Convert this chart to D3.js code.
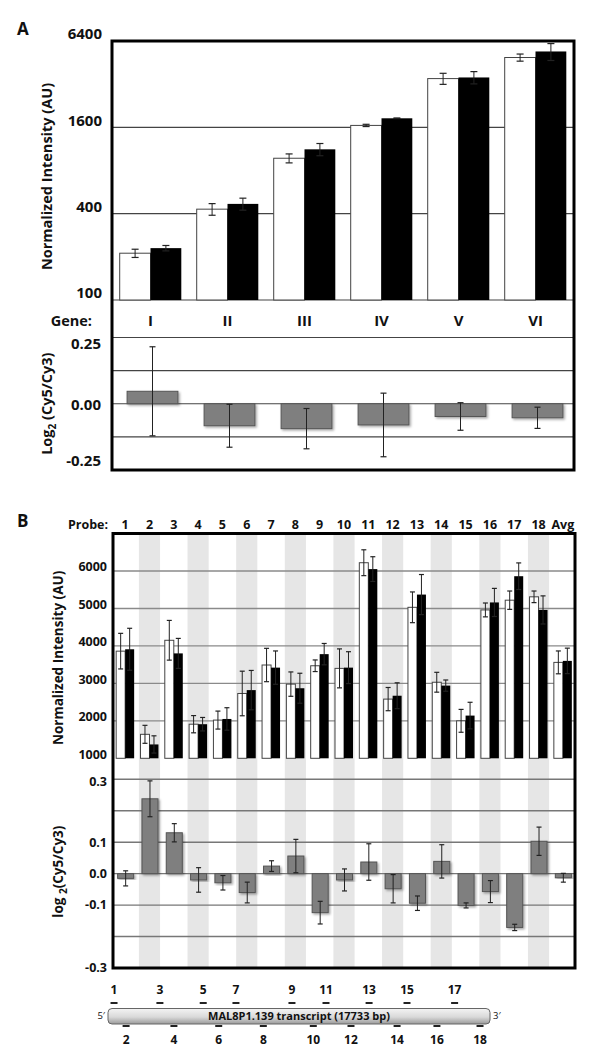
<!DOCTYPE html>
<html>
<head>
<meta charset="utf-8">
<script src="https://cdn.jsdelivr.net/npm/d3@7"></script>
<style>
  html, body { margin: 0; padding: 0; background: #fff; }
  svg { display: block; }
  text { font-family: "Open Sans", "DejaVu Sans", sans-serif; font-weight: 700; fill: #111; }
</style>
</head>
<body>
<svg id="chart" width="600" height="1060"></svg>
<script>
// ---------------- DATA ----------------
// Panel A
const genes = ["I", "II", "III", "IV", "V", "VI"];
const geneCy3 = [212, 430, 974, 1650, 3500, 4910];
const geneCy3Err = [14, 40, 70, 30, 310, 280];
const geneCy5 = [230, 468, 1124, 1850, 3564, 5410];
const geneCy5Err = [10, 45, 110, 10, 350, 730];
const geneLogRatio = [0.047, -0.083, -0.094, -0.080, -0.048, -0.053];
const geneLogRatioErr = [0.168, 0.081, 0.076, 0.12, 0.052, 0.04];
const intensityTicksA = [100, 400, 1600, 6400];
const logTicksA = [0.25, 0.00, -0.25];
const logGridA = [0.25, 0.125, 0, -0.125];

// Panel B
const probes = ["1","2","3","4","5","6","7","8","9","10","11","12","13","14","15","16","17","18","Avg"];
const probeCy3 = [3860, 1640, 4150, 1910, 2020, 2730, 3490, 2980, 3470, 3400, 6220, 2580, 5030, 3030, 2000, 4960, 5220, 5310, 3560];
const probeCy3Err = [475, 240, 530, 230, 240, 595, 445, 325, 155, 520, 345, 310, 410, 265, 305, 185, 245, 155, 305];
const probeCy5 = [3910, 1370, 3800, 1910, 2050, 2820, 3420, 2870, 3780, 3420, 6050, 2670, 5370, 2940, 2140, 5160, 5860, 4960, 3600];
const probeCy5Err = [560, 230, 400, 180, 300, 525, 445, 400, 285, 425, 330, 345, 535, 150, 355, 375, 355, 375, 340];
const probeLogRatio = [-0.015, 0.238, 0.130, -0.020, -0.029, -0.060, 0.024, 0.056, -0.124, -0.020, 0.037, -0.048, -0.094, 0.039, -0.101, -0.057, -0.171, 0.103, -0.013];
const probeLogRatioErr = [0.024, 0.057, 0.029, 0.039, 0.023, 0.033, 0.017, 0.053, 0.036, 0.035, 0.058, 0.045, 0.023, 0.053, 0.008, 0.035, 0.010, 0.045, 0.014];
const intensityTicksB = [1000, 2000, 3000, 4000, 5000, 6000];
const logTicksB = [0.3, 0.1, 0.0, -0.1, -0.3];
const logGridB = [0.3, 0.2, 0.1, 0.0, -0.1, -0.2];

// Transcript map
const transcriptName = "MAL8P1.139 transcript (17733 bp)";
const transcriptLength = 17733;
const probePositionsBp = [280, 840, 2410, 3060, 4420, 5140, 5940, 7210, 8540, 9530, 10120, 11280, 12120, 13420, 13880, 15270, 16090, 17270];

// ---------------- DRAW ----------------
const svg = d3.select("#chart");
const defs = svg.append("defs");
const shadow = defs.append("filter").attr("id", "shadow").attr("x", "-20%").attr("y", "-20%").attr("width", "150%").attr("height", "150%");
shadow.append("feDropShadow").attr("dx", 1.5).attr("dy", 1.5).attr("stdDeviation", 1).attr("flood-color", "#000").attr("flood-opacity", 0.35);
const grad = defs.append("linearGradient").attr("id", "tgrad").attr("x1", 0).attr("y1", 0).attr("x2", 0).attr("y2", 1);
grad.append("stop").attr("offset", "0%").attr("stop-color", "#f4f4f4");
grad.append("stop").attr("offset", "55%").attr("stop-color", "#d9d9d9");
grad.append("stop").attr("offset", "100%").attr("stop-color", "#9a9a9a");

function errorBar(g, x, y1, y2, cap, color) {
  g.append("line").attr("x1", x).attr("x2", x).attr("y1", y1).attr("y2", y2)
    .attr("stroke", color).attr("stroke-width", 1);
  [y1, y2].forEach(y => g.append("line").attr("x1", x - cap / 2).attr("x2", x + cap / 2)
    .attr("y1", y).attr("y2", y).attr("stroke", color).attr("stroke-width", 1.2));
}

// ===== Panel A =====
const A = { left: 112, right: 574, top: 41, intBottom: 300, geneBottom: 337.5, bottom: 470 };
const gA = svg.append("g");
const xA = d3.scaleBand().domain(genes).range([A.left, A.right]).paddingInner(0.2).paddingOuter(0.1);
const subA = d3.scaleBand().domain(["cy3", "cy5"]).range([0, xA.bandwidth()]);
const yA = d3.scaleLog().base(4).domain([100, 6400]).range([A.intBottom, A.top]);
const yAL = d3.scaleLinear().domain([-0.25, 0.25]).range([A.bottom, A.geneBottom]);

gA.append("text").attr("x", 17).attr("y", 35).style("font-size", "17px").text("A");

// grid lines (behind bars)
intensityTicksA.forEach(v => {
  gA.append("line").attr("x1", A.left).attr("x2", A.right).attr("y1", yA(v)).attr("y2", yA(v))
    .attr("stroke", "#444").attr("stroke-width", 1.1);
});
logGridA.forEach(v => {
  gA.append("line").attr("x1", A.left).attr("x2", A.right).attr("y1", yAL(v)).attr("y2", yAL(v))
    .attr("stroke", "#444").attr("stroke-width", 1.1);
});

// intensity bars
genes.forEach((gn, i) => {
  const x0 = xA(gn);
  const w = subA.bandwidth();
  gA.append("rect").attr("x", x0 + subA("cy3")).attr("y", yA(geneCy3[i]))
    .attr("width", w).attr("height", A.intBottom - yA(geneCy3[i]))
    .attr("fill", "#fff").attr("stroke", "#444").attr("stroke-width", 1);
  gA.append("rect").attr("x", x0 + subA("cy5")).attr("y", yA(geneCy5[i]))
    .attr("width", w).attr("height", A.intBottom - yA(geneCy5[i]))
    .attr("fill", "#000");
  errorBar(gA, x0 + subA("cy3") + w / 2, yA(geneCy3[i] + geneCy3Err[i]), yA(geneCy3[i] - geneCy3Err[i]), 7, "#222");
  errorBar(gA, x0 + subA("cy5") + w / 2, yA(geneCy5[i] + geneCy5Err[i]), yA(geneCy5[i] - geneCy5Err[i]), 7, "#222");
});

// gene labels
gA.append("text").attr("x", 92).attr("y", 321).attr("dy", "0.35em").attr("text-anchor", "end")
  .style("font-size", "14.5px").text("Gene:");
genes.forEach(gn => {
  gA.append("text").attr("x", xA(gn) + xA.bandwidth() / 2).attr("y", 321).attr("dy", "0.35em")
    .attr("text-anchor", "middle").style("font-size", "15px").text(gn);
});

// log ratio bars
const lwA = xA.step() * 0.66;
genes.forEach((gn, i) => {
  const cx = xA(gn) + xA.bandwidth() / 2 + 2;
  const v = geneLogRatio[i];
  gA.append("rect").attr("x", cx - lwA / 2).attr("y", Math.min(yAL(v), yAL(0)))
    .attr("width", lwA).attr("height", Math.abs(yAL(v) - yAL(0)))
    .attr("fill", "#7f7f7f").attr("stroke", "#555").attr("stroke-width", 1)
    .attr("filter", "url(#shadow)");
  errorBar(gA, cx, yAL(v + geneLogRatioErr[i]), yAL(v - geneLogRatioErr[i]), 6, "#222");
});

// y tick labels
intensityTicksA.forEach(v => {
  gA.append("text").attr("x", 102).attr("y", yA(v) - 7).attr("dy", "0.35em").attr("text-anchor", "end")
    .style("font-size", "15px").text(v);
});
logTicksA.forEach(v => {
  const y = Math.max(A.geneBottom + 6, Math.min(A.bottom - 9, yAL(v) + 1));
  gA.append("text").attr("x", 101).attr("y", y).attr("dy", "0.35em").attr("text-anchor", "end")
    .style("font-size", "15px").text(d3.format(".2f")(v).replace("−", "-"));
});

// axis titles
gA.append("text").attr("transform", `translate(47,${(A.top + A.intBottom) / 2 + 6}) rotate(-90)`)
  .attr("text-anchor", "middle").attr("dy", "0.35em").style("font-size", "14.5px")
  .text("Normalized Intensity (AU)");
const tA = gA.append("text").attr("transform", `translate(47,${yAL(0)}) rotate(-90)`)
  .attr("text-anchor", "middle").attr("dy", "0.35em").style("font-size", "14.5px");
tA.append("tspan").text("Log");
tA.append("tspan").attr("dy", "4").style("font-size", "10px").text("2");
tA.append("tspan").attr("dy", "-4").text(" (Cy5/Cy3)");

// frame
gA.append("line").attr("x1", A.left).attr("x2", A.right).attr("y1", A.geneBottom).attr("y2", A.geneBottom)
  .attr("stroke", "#444").attr("stroke-width", 1.1);
gA.append("rect").attr("x", A.left).attr("y", A.top).attr("width", A.right - A.left).attr("height", A.bottom - A.top)
  .attr("fill", "none").attr("stroke", "#000").attr("stroke-width", 3);

// ===== Panel B =====
const B = { left: 113, right: 575, top: 533.5, intBottom: 758.3, bottom: 968 };
const gB = svg.append("g");
const xB = d3.scaleBand().domain(probes).range([B.left, B.right]);
const pairW = xB.step() * 0.74;
const subB = d3.scaleBand().domain(["cy3", "cy5"]).range([0, pairW]);
const yB = d3.scaleLinear().domain([1000, 7000]).range([B.intBottom, B.top]);
const yBL = d3.scaleLinear().domain([-0.3, 0.3]).range([B.bottom, 779.3]);

gB.append("text").attr("x", 17).attr("y", 527).style("font-size", "17px").text("B");

// stripes
probes.forEach((p, i) => {
  if (i % 2 === 1 && p !== "Avg") {
    const sw = xB.step() * 0.87;
    gB.append("rect").attr("x", xB(p) + (xB.step() - sw) / 2).attr("y", B.top)
      .attr("width", sw).attr("height", B.bottom - B.top).attr("fill", "#e6e6e6");
  }
});

// grid lines
intensityTicksB.filter(v => v > 1000).forEach(v => {
  gB.append("line").attr("x1", B.left).attr("x2", B.right).attr("y1", yB(v)).attr("y2", yB(v))
    .attr("stroke", "#8a8a8a").attr("stroke-width", 1.4);
});
logGridB.forEach(v => {
  gB.append("line").attr("x1", B.left).attr("x2", B.right).attr("y1", yBL(v)).attr("y2", yBL(v))
    .attr("stroke", "#777").attr("stroke-width", 1.4);
});

// intensity bars
probes.forEach((p, i) => {
  const x0 = xB(p) + (xB.step() - pairW) / 2;
  const w = subB.bandwidth();
  gB.append("rect").attr("x", x0 + subB("cy3")).attr("y", yB(probeCy3[i]))
    .attr("width", w).attr("height", B.intBottom - yB(probeCy3[i]))
    .attr("fill", "#fff").attr("stroke", "#444").attr("stroke-width", 1);
  gB.append("rect").attr("x", x0 + subB("cy5")).attr("y", yB(probeCy5[i]))
    .attr("width", w).attr("height", B.intBottom - yB(probeCy5[i]))
    .attr("fill", "#000");
  errorBar(gB, x0 + subB("cy3") + w / 2, yB(probeCy3[i] + probeCy3Err[i]), yB(probeCy3[i] - probeCy3Err[i]), 5, "#222");
  errorBar(gB, x0 + subB("cy5") + w / 2, yB(probeCy5[i] + probeCy5Err[i]), yB(probeCy5[i] - probeCy5Err[i]), 5, "#222");
});

// log ratio bars
const lwB = xB.step() * 0.66;
probes.forEach((p, i) => {
  const cx = xB(p) + xB.step() / 2 + 0.5;
  const v = probeLogRatio[i];
  gB.append("rect").attr("x", cx - lwB / 2).attr("y", Math.min(yBL(v), yBL(0)))
    .attr("width", lwB).attr("height", Math.abs(yBL(v) - yBL(0)))
    .attr("fill", "#7f7f7f").attr("stroke", "#555").attr("stroke-width", 1)
    .attr("filter", "url(#shadow)");
  errorBar(gB, cx, yBL(v + probeLogRatioErr[i]), yBL(v - probeLogRatioErr[i]), 5, "#222");
});

// header
gB.append("text").attr("x", 108).attr("y", 525).attr("dy", "0.35em").attr("text-anchor", "end")
  .style("font-size", "12.5px").text("Probe:");
probes.forEach(p => {
  gB.append("text").attr("x", xB(p) + xB.step() / 2).attr("y", 525).attr("dy", "0.35em")
    .attr("text-anchor", "middle").style("font-size", "12.5px").text(p);
});

// tick labels
intensityTicksB.forEach(v => {
  gB.append("text").attr("x", 107).attr("y", yB(v) - 4).attr("dy", "0.35em").attr("text-anchor", "end")
    .style("font-size", "12.5px").text(v);
});
logTicksB.forEach(v => {
  gB.append("text").attr("x", 107).attr("y", yBL(v) + (v === 0.3 ? 2 : 0)).attr("dy", "0.35em").attr("text-anchor", "end")
    .style("font-size", "12.5px").text(d3.format(".1f")(v).replace("−", "-"));
});

// axis titles
gB.append("text").attr("transform", `translate(58,${(B.top + B.intBottom) / 2 + 12}) rotate(-90)`)
  .attr("text-anchor", "middle").attr("dy", "0.35em").style("font-size", "13.5px")
  .text("Normalized Intensity (AU)");
const tB = gB.append("text").attr("transform", `translate(58,${yBL(0) - 2}) rotate(-90)`)
  .attr("text-anchor", "middle").attr("dy", "0.35em").style("font-size", "13.5px");
tB.append("tspan").text("log ");
tB.append("tspan").attr("dy", "4").style("font-size", "10px").text("2");
tB.append("tspan").attr("dy", "-4").text("(Cy5/Cy3)");

// frame
gB.append("rect").attr("x", B.left).attr("y", B.top).attr("width", B.right - B.left).attr("height", B.bottom - B.top)
  .attr("fill", "none").attr("stroke", "#000").attr("stroke-width", 3);

// ===== Transcript map =====
const gT = svg.append("g");
const xT = d3.scaleLinear().domain([0, transcriptLength]).range([108, 490]);
gT.append("rect").attr("x", xT(0)).attr("y", 1008.5).attr("width", xT(transcriptLength) - xT(0)).attr("height", 15.5)
  .attr("rx", 4).attr("fill", "url(#tgrad)").attr("stroke", "#666").attr("stroke-width", 1);
gT.append("text").attr("x", (xT(0) + xT(transcriptLength)) / 2).attr("y", 1016.5).attr("dy", "0.35em")
  .attr("text-anchor", "middle").style("font-size", "11px").text(transcriptName);
gT.append("text").attr("x", xT(0) - 3).attr("y", 1016).attr("dy", "0.35em").attr("text-anchor", "end")
  .style("font-size", "9.5px").style("font-weight", "400").text("5′");
gT.append("text").attr("x", xT(transcriptLength) + 3).attr("y", 1016).attr("dy", "0.35em")
  .style("font-size", "9.5px").style("font-weight", "400").text("3′");

probePositionsBp.forEach((bp, i) => {
  const odd = (i % 2 === 0);
  const x = xT(bp);
  const dashY = odd ? 1003 : 1026;
  const labY = odd ? 989.5 : 1040;
  gT.append("line").attr("x1", x - 3.5).attr("x2", x + 3.5).attr("y1", dashY).attr("y2", dashY)
    .attr("stroke", "#222").attr("stroke-width", 2);
  gT.append("text").attr("x", x).attr("y", labY).attr("dy", "0.35em").attr("text-anchor", "middle")
    .style("font-size", "12px").text(probes[i]);
});
</script>
</body>
</html>
